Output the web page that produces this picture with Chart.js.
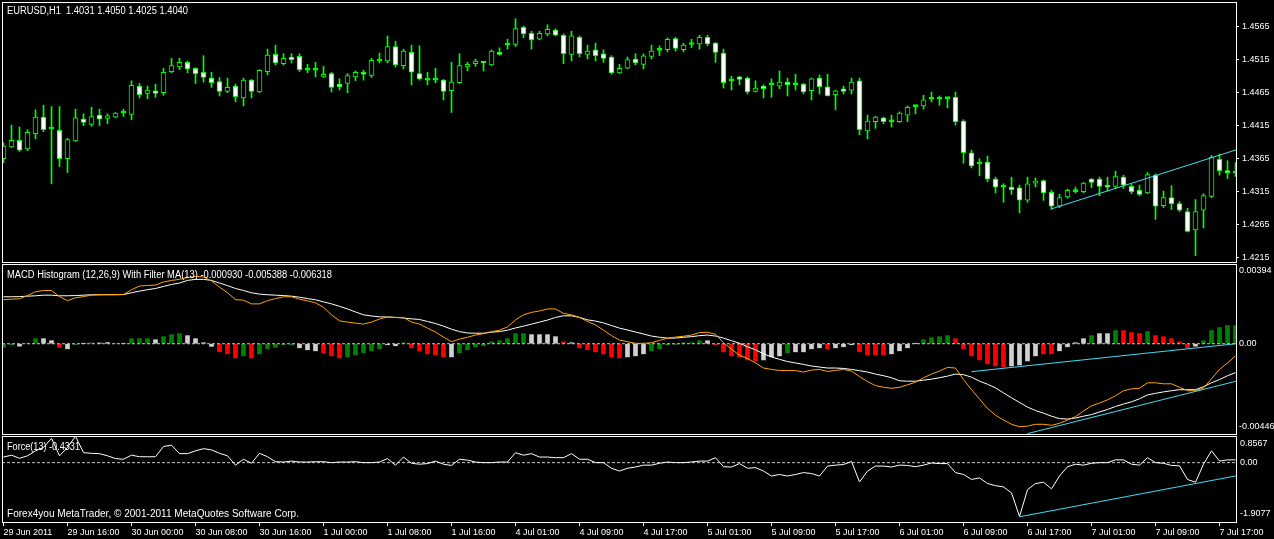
<!DOCTYPE html>
<html>
<head>
<meta charset="utf-8">
<title>EURUSD H1</title>
<script src="https://cdn.jsdelivr.net/npm/chart.js@4.4.1/dist/chart.umd.min.js"></script>
<style>
  html, body { margin: 0; padding: 0; background: #000; }
  #stage { position: relative; width: 1274px; height: 539px; overflow: hidden; background: #000; }
  canvas { position: absolute; left: 0; display: block; }
  .label {
    position: absolute; left: 7px; color: #fff; white-space: nowrap;
    font: 10px "Liberation Sans", Arial, sans-serif; line-height: 12px;
    transform-origin: 0 50%; z-index: 2;
  }
</style>
</head>
<body>
<div id="stage">
  <canvas id="price-chart" width="1274" height="264" style="top:0"></canvas>
  <canvas id="macd-chart" width="1274" height="172" style="top:263px"></canvas>
  <canvas id="force-chart" width="1274" height="104" style="top:435px"></canvas>
  <div class="label" style="top:5px" data-w="181">EURUSD,H1&nbsp; 1.4031 1.4050 1.4025 1.4040</div>
  <div class="label" style="top:269px" data-w="325">MACD Histogram (12,26,9) With Filter MA(13) -0.000930 -0.005388 -0.006318</div>
  <div class="label" style="top:441px" data-w="73">Force(13) -0.4331</div>
  <div class="label" style="top:508px" data-w="292">Forex4you MetaTrader, © 2001-2011 MetaQuotes Software Corp.</div>
</div>
<script>
// candles, one per hour, left to right
const opens = [
  1.4365, 1.4383, 1.4393, 1.4380, 1.4403, 1.4428, 1.4410, 1.4408, 1.4365, 1.4392,
  1.4425, 1.4417, 1.4431, 1.4426, 1.4428, 1.4434, 1.4432, 1.4475, 1.4464, 1.4468,
  1.4465, 1.4497, 1.4504, 1.4511, 1.4502, 1.4496, 1.4487, 1.4482, 1.4467, 1.4475,
  1.4457, 1.4484, 1.4466, 1.4497, 1.4523, 1.4509, 1.4519, 1.4520, 1.4499, 1.4499,
  1.4489, 1.4494, 1.4478, 1.4479, 1.4489, 1.4496, 1.4491, 1.4513, 1.4513, 1.4535,
  1.4506, 1.4526, 1.4494, 1.4484, 1.4484, 1.4484, 1.4468, 1.4480, 1.4504, 1.4509,
  1.4511, 1.4507, 1.4526, 1.4537, 1.4538, 1.4564, 1.4555, 1.4546, 1.4554, 1.4560,
  1.4552, 1.4523, 1.4549, 1.4523, 1.4530, 1.4524, 1.4519, 1.4495, 1.4502, 1.4516,
  1.4508, 1.4520, 1.4529, 1.4530, 1.4547, 1.4530, 1.4538, 1.4539, 1.4549, 1.4540,
  1.4525, 1.4483, 1.4489, 1.4487, 1.4467, 1.4475, 1.4477, 1.4475, 1.4481, 1.4477,
  1.4478, 1.4468, 1.4487, 1.4474, 1.4462, 1.4471, 1.4469, 1.4483, 1.4407, 1.4421,
  1.4427, 1.4421, 1.4421, 1.4431, 1.4444, 1.4445, 1.4455, 1.4455, 1.4456, 1.4458,
  1.4422, 1.4374, 1.4357, 1.4360, 1.4334, 1.4322, 1.4322, 1.4321, 1.4302, 1.4328,
  1.4332, 1.4314, 1.4293, 1.4307, 1.4315, 1.4315, 1.4334, 1.4334, 1.4325, 1.4323,
  1.4337, 1.4323, 1.4317, 1.4313, 1.4340, 1.4294, 1.4306, 1.4297, 1.4285, 1.4257,
  1.4287, 1.4308, 1.4364, 1.4347, 1.4343,
];
const highs = [
  1.4389, 1.4416, 1.4413, 1.4409, 1.4439, 1.4446, 1.4444, 1.4444, 1.4396, 1.4440,
  1.4433, 1.4443, 1.4440, 1.4433, 1.4435, 1.4440, 1.4483, 1.4479, 1.4475, 1.4478,
  1.4502, 1.4517, 1.4517, 1.4513, 1.4503, 1.4521, 1.4496, 1.4488, 1.4487, 1.4478,
  1.4487, 1.4485, 1.4500, 1.4531, 1.4537, 1.4524, 1.4524, 1.4524, 1.4508, 1.4511,
  1.4505, 1.4496, 1.4486, 1.4494, 1.4498, 1.4499, 1.4517, 1.4525, 1.4551, 1.4543,
  1.4531, 1.4537, 1.4536, 1.4496, 1.4502, 1.4485, 1.4511, 1.4524, 1.4511, 1.4516,
  1.4512, 1.4530, 1.4533, 1.4546, 1.4577, 1.4566, 1.4558, 1.4558, 1.4568, 1.4562,
  1.4554, 1.4558, 1.4551, 1.4537, 1.4540, 1.4530, 1.4521, 1.4508, 1.4519, 1.4524,
  1.4524, 1.4537, 1.4536, 1.4548, 1.4549, 1.4540, 1.4546, 1.4552, 1.4552, 1.4541,
  1.4531, 1.4490, 1.4490, 1.4489, 1.4483, 1.4477, 1.4486, 1.4498, 1.4487, 1.4493,
  1.4479, 1.4487, 1.4492, 1.4493, 1.4469, 1.4475, 1.4487, 1.4487, 1.4431, 1.4429,
  1.4428, 1.4431, 1.4436, 1.4445, 1.4446, 1.4461, 1.4466, 1.4460, 1.4457, 1.4466,
  1.4424, 1.4378, 1.4365, 1.4369, 1.4337, 1.4327, 1.4337, 1.4325, 1.4337, 1.4336,
  1.4333, 1.4317, 1.4311, 1.4319, 1.4322, 1.4329, 1.4335, 1.4337, 1.4337, 1.4346,
  1.4340, 1.4326, 1.4325, 1.4344, 1.4342, 1.4316, 1.4324, 1.4300, 1.4290, 1.4303,
  1.4312, 1.4370, 1.4372, 1.4362, 1.4359,
];
const lows = [
  1.4359, 1.4382, 1.4376, 1.4377, 1.4395, 1.4406, 1.4327, 1.4353, 1.4344, 1.4391,
  1.4415, 1.4414, 1.4415, 1.4418, 1.4427, 1.4429, 1.4424, 1.4457, 1.4456, 1.4458,
  1.4461, 1.4495, 1.4500, 1.4495, 1.4479, 1.4481, 1.4473, 1.4460, 1.4465, 1.4451,
  1.4445, 1.4457, 1.4465, 1.4492, 1.4507, 1.4507, 1.4510, 1.4497, 1.4495, 1.4489,
  1.4488, 1.4466, 1.4469, 1.4465, 1.4483, 1.4484, 1.4488, 1.4510, 1.4510, 1.4504,
  1.4501, 1.4477, 1.4484, 1.4477, 1.4480, 1.4454, 1.4435, 1.4479, 1.4498, 1.4505,
  1.4498, 1.4506, 1.4522, 1.4531, 1.4535, 1.4548, 1.4531, 1.4545, 1.4551, 1.4551,
  1.4509, 1.4513, 1.4519, 1.4516, 1.4513, 1.4511, 1.4493, 1.4494, 1.4501, 1.4507,
  1.4501, 1.4516, 1.4521, 1.4527, 1.4528, 1.4527, 1.4533, 1.4531, 1.4536, 1.4511,
  1.4472, 1.4469, 1.4477, 1.4463, 1.4466, 1.4457, 1.4458, 1.4471, 1.4460, 1.4469,
  1.4463, 1.4454, 1.4463, 1.4460, 1.4439, 1.4463, 1.4463, 1.4401, 1.4395, 1.4411,
  1.4418, 1.4413, 1.4420, 1.4421, 1.4433, 1.4440, 1.4451, 1.4446, 1.4442, 1.4416,
  1.4358, 1.4351, 1.4339, 1.4330, 1.4313, 1.4299, 1.4311, 1.4283, 1.4299, 1.4322,
  1.4302, 1.4288, 1.4291, 1.4305, 1.4313, 1.4313, 1.4321, 1.4309, 1.4316, 1.4320,
  1.4320, 1.4312, 1.4309, 1.4312, 1.4273, 1.4291, 1.4288, 1.4285, 1.4254, 1.4218,
  1.4260, 1.4306, 1.4340, 1.4335, 1.4338,
];
const closes = [
  1.4384, 1.4393, 1.4378, 1.4405, 1.4428, 1.4409, 1.4410, 1.4365, 1.4394, 1.4427,
  1.4420, 1.4429, 1.4425, 1.4430, 1.4434, 1.4434, 1.4476, 1.4462, 1.4469, 1.4464,
  1.4496, 1.4506, 1.4511, 1.4501, 1.4494, 1.4488, 1.4480, 1.4467, 1.4473, 1.4459,
  1.4484, 1.4467, 1.4499, 1.4522, 1.4510, 1.4517, 1.4515, 1.4500, 1.4499, 1.4499,
  1.4493, 1.4473, 1.4474, 1.4491, 1.4496, 1.4493, 1.4514, 1.4513, 1.4535, 1.4507,
  1.4528, 1.4496, 1.4486, 1.4484, 1.4484, 1.4467, 1.4481, 1.4506, 1.4508, 1.4513,
  1.4510, 1.4528, 1.4523, 1.4537, 1.4562, 1.4554, 1.4545, 1.4555, 1.4561, 1.4552,
  1.4524, 1.4551, 1.4524, 1.4528, 1.4521, 1.4517, 1.4495, 1.4502, 1.4515, 1.4510,
  1.4521, 1.4528, 1.4529, 1.4546, 1.4532, 1.4537, 1.4538, 1.4549, 1.4539, 1.4526,
  1.4480, 1.4483, 1.4485, 1.4466, 1.4472, 1.4471, 1.4477, 1.4481, 1.4477, 1.4477,
  1.4466, 1.4486, 1.4474, 1.4460, 1.4468, 1.4467, 1.4481, 1.4409, 1.4422, 1.4428,
  1.4421, 1.4421, 1.4434, 1.4443, 1.4444, 1.4454, 1.4455, 1.4455, 1.4456, 1.4421,
  1.4374, 1.4354, 1.4357, 1.4334, 1.4322, 1.4322, 1.4318, 1.4302, 1.4327, 1.4331,
  1.4313, 1.4293, 1.4306, 1.4317, 1.4315, 1.4328, 1.4329, 1.4323, 1.4322, 1.4338,
  1.4325, 1.4315, 1.4311, 1.4341, 1.4293, 1.4306, 1.4297, 1.4287, 1.4255, 1.4285,
  1.4309, 1.4367, 1.4347, 1.4344, 1.4343,
];

// MACD histogram (g = green, r = red, w = grey) and its two lines
const histValues = [
  -0.00018, -0.00005, -0.00012, 0.00003, 0.00025, 0.00025, 0.00015, -0.00018, -0.00025, -0.00005,
  0.00001, 0.00005, 0.00004, 0.00006, 0.00003, 0.00002, 0.00025, 0.00025, 0.00025, 0.0002,
  0.00035, 0.00045, 0.0005, 0.0004, 0.00025, 0.00005, -0.00013, -0.0004, -0.0005, -0.0007,
  -0.0006, -0.0007, -0.0005, -0.00025, -0.00018, -0.00005, -0.00006, -0.0002, -0.0003, -0.00035,
  -0.00045, -0.0006, -0.0007, -0.00065, -0.00055, -0.00045, -0.00035, -0.00025, -0.00005, -0.0001,
  0.00005, -0.0002, -0.00035, -0.0005, -0.00055, -0.00065, -0.00065, -0.00045, -0.0003, -0.00015,
  -0.0001, 0.0001, 0.00015, 0.00025, 0.0005, 0.0005, 0.00045, 0.00045, 0.00045, 0.00035,
  0.0001, 0.00005, -0.0002, -0.0003, -0.0004, -0.0005, -0.00065, -0.0007, -0.00065, -0.0006,
  -0.0005, -0.00035, -0.00025, -0.00005, -0.00003, 0.00005, 0.00005, 0.00015, 0.00015, -0.00005,
  -0.0004, -0.0006, -0.00065, -0.0008, -0.00085, -0.0008, -0.00065, -0.0006, -0.00045, -0.0004,
  -0.0004, -0.00025, -0.0002, -0.00025, -0.0002, -0.00015, -0.00005, -0.0004, -0.00055, -0.00055,
  -0.00055, -0.0005, -0.00035, -0.0002, 0.00001, 0.0002, 0.0003, 0.00035, 0.0004, 0.00025,
  -0.00025, -0.0006, -0.0008, -0.001, -0.0011, -0.00115, -0.0011, -0.00105, -0.00085, -0.0006,
  -0.0005, -0.0005, -0.00035, -0.00015, 0.00005, 0.00025, 0.0004, 0.0005, 0.0005, 0.00065,
  0.00065, 0.00055, 0.0005, 0.0006, 0.0004, 0.00035, 0.00025, 0.0001, -0.0002, -0.00012,
  0.00015, 0.00065, 0.0008, 0.0009, 0.0009,
];
const histKinds = [
  'ggwggwwrwg', 'wgwwgwgggw', 'gggwwwwrrr', 'grgggggwww', 'rrrgggggww',
  'grrrrrwggg', 'ggggggwwww', 'rwrrrrrrww', 'wgggggggwr', 'rrrrrwwwgw',
  'wwwrwwwrrr', 'rwwwwggggr', 'rrrrrrwwww', 'rrwwwwgwwg', 'rrrgrrrrrw',
  'ggggg',
].join('');
const macdWhite = [
  0.00232, 0.00232, 0.00233, 0.00235, 0.00237, 0.0024, 0.0024, 0.00237, 0.00237, 0.00238,
  0.0024, 0.00242, 0.00242, 0.00242, 0.00242, 0.00243, 0.00252, 0.0026, 0.00267, 0.00273,
  0.00283, 0.00293, 0.003, 0.00313, 0.00318, 0.00318, 0.00313, 0.003, 0.00287, 0.00273,
  0.00263, 0.00252, 0.00245, 0.00242, 0.0024, 0.00238, 0.00235, 0.0023, 0.00223, 0.00217,
  0.00207, 0.00197, 0.00185, 0.00172, 0.00157, 0.00143, 0.00137, 0.00133, 0.00132, 0.0013,
  0.00127, 0.00123, 0.0012, 0.0011, 0.001, 0.00087, 0.00072, 0.0006, 0.00053, 0.00052,
  0.00052, 0.00057, 0.0006, 0.00067, 0.00078, 0.00087, 0.00097, 0.00107, 0.00117, 0.0013,
  0.00138, 0.00138, 0.0013, 0.00118, 0.00112, 0.00103, 0.0009, 0.00077, 0.00068, 0.00058,
  0.00048, 0.00038, 0.00032, 0.00028, 0.00028, 0.00032, 0.00035, 0.0004, 0.00043, 0.00038,
  0.00028, 0.00015, 0.00002, -0.00015, -0.0003, -0.0005, -0.00065, -0.00077, -0.00088, -0.00095,
  -0.00102, -0.0011, -0.00115, -0.0012, -0.0012, -0.00122, -0.00127, -0.00133, -0.0014, -0.0015,
  -0.00158, -0.00168, -0.00183, -0.00185, -0.00185, -0.0018, -0.00175, -0.00168, -0.0016, -0.0015,
  -0.00153, -0.00165, -0.00185, -0.002, -0.00218, -0.00243, -0.00267, -0.0029, -0.00313, -0.0033,
  -0.00343, -0.00358, -0.0037, -0.00372, -0.00367, -0.00358, -0.0035, -0.00337, -0.00325, -0.0031,
  -0.00298, -0.00287, -0.00272, -0.00253, -0.00245, -0.00238, -0.00232, -0.00227, -0.00227, -0.00227,
  -0.00212, -0.00193, -0.00177, -0.00158, -0.00143,
];
const macdOrange = [
  0.00218, 0.0022, 0.00222, 0.00238, 0.00257, 0.00263, 0.00263, 0.00233, 0.00213, 0.00227,
  0.00233, 0.0024, 0.00242, 0.00243, 0.00243, 0.00243, 0.00267, 0.00285, 0.00288, 0.0029,
  0.00305, 0.00313, 0.00318, 0.00327, 0.00332, 0.0033, 0.0031, 0.0028, 0.00252, 0.00218,
  0.00215, 0.00197, 0.00197, 0.00213, 0.00223, 0.00232, 0.00232, 0.0022, 0.00212, 0.00202,
  0.0018, 0.00143, 0.00113, 0.00107, 0.00102, 0.00097, 0.00107, 0.00122, 0.00132, 0.0013,
  0.0013, 0.00107, 0.00097, 0.00077, 0.00058, 0.00033, 0.0001, 0.00023, 0.00032, 0.00043,
  0.0005, 0.0006, 0.00067, 0.00083, 0.00118, 0.00143, 0.00155, 0.00162, 0.00172, 0.00172,
  0.0015, 0.00143, 0.0013, 0.0011, 0.00093, 0.00067, 0.0004, 0.00018, 0.0001, 0.00002,
  0.00002, 0.00005, 0.00017, 0.00027, 0.00033, 0.00037, 0.00043, 0.00055, 0.00057, 0.00047,
  0.00005, -0.00027, -0.00057, -0.00073, -0.00095, -0.0012, -0.00127, -0.00132, -0.00132, -0.00133,
  -0.0014, -0.0013, -0.00127, -0.00137, -0.00132, -0.00127, -0.00135, -0.00162, -0.00187, -0.00207,
  -0.00215, -0.0022, -0.00215, -0.00203, -0.0019, -0.00168, -0.0015, -0.00135, -0.00117, -0.0012,
  -0.00177, -0.00227, -0.00273, -0.0032, -0.00353, -0.00377, -0.00398, -0.0041, -0.00407, -0.00398,
  -0.00398, -0.00403, -0.00393, -0.00377, -0.0036, -0.00332, -0.00307, -0.00293, -0.00277, -0.00257,
  -0.00232, -0.00223, -0.0022, -0.00193, -0.00193, -0.00198, -0.00198, -0.00215, -0.00232, -0.00232,
  -0.0022, -0.00173, -0.00127, -0.00095, -0.0006,
];

// Force index
const forceValues = [
  0.18, 0.24, 0.14, 0.22, 0.38, 0.49, 0.78, 0.22, 0.49, 0.85,
  0.32, 0.30, 0.29, 0.22, 0.13, 0.11, 0.24, 0.19, 0.19, 0.19,
  0.52, 0.56, 0.29, 0.29, 0.38, 0.45, 0.41, 0.30, 0.22, -0.08,
  0.11, -0.02, 0.30, 0.19, 0.03, 0.02, 0.05, 0.02, 0.02, 0.03,
  0.03, 0, 0.02, 0.02, 0.03, 0, 0, 0.02, 0.13, -0.08,
  0.18, -0.02, -0.05, -0.03, 0.05, -0.05, -0.09, 0.11, 0.08, 0.02,
  0, 0, 0.02, 0.02, 0.32, 0.24, 0.29, 0.18, 0.18, 0.16,
  0.16, 0.29, 0.11, 0.11, 0, 0, -0.18, -0.27, -0.18, -0.14,
  -0.08, -0.08, -0.02, 0.02, 0, 0, 0.02, 0.05, 0.05, 0.16,
  -0.13, -0.14, -0.03, -0.18, -0.16, -0.27, -0.43, -0.38, -0.43, -0.38,
  -0.32, -0.35, -0.43, -0.11, -0.08, -0.06, 0.04, -0.62, -0.27, -0.11,
  -0.11, -0.14, -0.08, -0.09, -0.13, -0.08, -0.01, -0.03, -0.03, -0.32,
  -0.38, -0.54, -0.49, -0.67, -0.74, -0.78, -0.97, -1.73, -0.87, -0.67,
  -0.63, -0.84, -0.43, -0.13, -0.05, -0.08, -0.02, 0, 0, 0.09,
  0.09, -0.05, -0.08, 0.16, 0, -0.02, -0.09, -0.10, -0.54, -0.63,
  -0.05, 0.38, 0.05, 0.09, 0.09,
];

// hand-drawn trend lines: [bar, value] at both ends
const priceTrend = [[131, 1.4289], [155, 1.4382]];
const macdTrendHigh = [[121, -0.00138], [155, 0.00004]];
const macdTrendLow = [[128, -0.00444], [155, -0.00176]];
const forceTrend = [[127, -1.74], [155, -0.38]];

// axes
const priceTicks = [1.4565, 1.4515, 1.4465, 1.4415, 1.4365, 1.4315, 1.4265, 1.4215];
const priceRange = [1.42085, 1.46024];
const macdRange = [-0.00446, 0.00394];
const macdTickLabels = ['0.00394', '0.00', '-0.00446'];
const forceRange = [-1.9077, 0.8567];
const forceTickLabels = ['0.8567', '0.00', '-1.9077'];
const timeTickBars = [0, 8, 16, 24, 32, 40, 48, 56, 64, 72, 80, 88, 96, 104, 112, 120, 128, 136, 144, 152];
const timeTickLabels = [
  '29 Jun 2011', '29 Jun 16:00', '30 Jun 00:00', '30 Jun 08:00', '30 Jun 16:00',
  '1 Jul 00:00', '1 Jul 08:00', '1 Jul 16:00', '4 Jul 01:00', '4 Jul 09:00',
  '4 Jul 17:00', '5 Jul 01:00', '5 Jul 09:00', '5 Jul 17:00', '6 Jul 01:00',
  '6 Jul 09:00', '6 Jul 17:00', '7 Jul 01:00', '7 Jul 09:00', '7 Jul 17:00',
];
const barRange = [-0.1875, 154.0625];

const GREEN = '#00ff00';
const CYAN = '#3fdcf5';
const histColors = { g: '#008000', r: '#ff0000', w: '#d0d0d0' };

Chart.defaults.font.family = '"Liberation Sans", Arial, sans-serif';
Chart.defaults.font.size = 9;
Chart.defaults.color = '#ffffff';
Chart.defaults.animation = false;
Chart.defaults.plugins.legend.display = false;
Chart.defaults.plugins.tooltip.enabled = false;

const framePlugin = {
  id: 'frame',
  afterDraw(chart) {
    const { ctx, chartArea: a } = chart;
    ctx.save();
    ctx.strokeStyle = '#ffffff';
    ctx.lineWidth = 1;
    ctx.strokeRect(a.left + 0.5, a.top + 0.5, a.right - a.left, a.bottom - a.top);
    ctx.restore();
  },
};

function toPoints(pairs) {
  return pairs.map(([x, y]) => ({ x, y }));
}

function lineSet(data, color, extra = {}) {
  return {
    type: 'line', data, borderColor: color, borderWidth: 1,
    pointRadius: 0, tension: 0, fill: false, ...extra,
  };
}

function zeroLine() {
  return lineSet(toPoints([[barRange[0], 0], [barRange[1], 0]]), '#c8c8c8', { borderDash: [3, 2], order: 2 });
}

function hiddenBarAxis() {
  return {
    type: 'linear', display: false, offset: false, bounds: 'data',
    min: barRange[0], max: barRange[1], grid: { offset: false },
  };
}

function rightAxis(range, extra) {
  return {
    position: 'right', min: range[0], max: range[1], bounds: 'data',
    afterFit(scale) { scale.width = 38; scale.paddingTop = 0; scale.paddingBottom = 0; },
    border: { display: false },
    ...extra,
  };
}

// label at max/min sits just inside the panel, like the terminal draws it
function edgeTicks(inset) {
  return (scale) => {
    const perPx = (scale.max - scale.min) / scale.height;
    scale.ticks = [
      { value: scale.max - inset * perPx },
      { value: 0 },
      { value: scale.min + inset * perPx },
    ];
  };
}

const indices = opens.map((_, i) => i);

new Chart(document.querySelector('#price-chart'), {
  type: 'bar',
  data: {
    datasets: [
      lineSet(toPoints(priceTrend), CYAN, { order: 0 }),
      {
        data: indices.map((i) => ({ x: i, y: [opens[i], closes[i]] })),
        backgroundColor: indices.map((i) => (closes[i] > opens[i] ? '#000000' : closes[i] < opens[i] ? '#ffffff' : GREEN)),
        borderColor: GREEN, borderWidth: 1, borderSkipped: false,
        barThickness: 5, minBarLength: 2, grouped: false, order: 1,
      },
      {
        data: indices.map((i) => ({ x: i, y: [lows[i], highs[i]] })),
        backgroundColor: GREEN, borderWidth: 0,
        barThickness: 1, grouped: false, order: 2,
      },
    ],
  },
  options: {
    responsive: false,
    layout: { padding: { left: 2, top: 2, bottom: 2, right: 0 } },
    scales: {
      x: hiddenBarAxis(),
      y: rightAxis(priceRange, {
        afterBuildTicks(scale) { scale.ticks = priceTicks.map((value) => ({ value })); },
        grid: { drawOnChartArea: false, drawTicks: true, tickLength: 3, color: '#ffffff' },
        ticks: { color: '#ffffff', padding: 3, callback: (value) => Number(value).toFixed(4) },
      }),
    },
  },
  plugins: [framePlugin],
});

new Chart(document.querySelector('#macd-chart'), {
  type: 'bar',
  data: {
    datasets: [
      lineSet(toPoints(macdTrendHigh), CYAN, { order: 0 }),
      lineSet(toPoints(macdTrendLow), CYAN, { order: 0 }),
      lineSet(indices.map((i) => ({ x: i, y: macdOrange[i] })), '#ffa500', { order: 0 }),
      lineSet(indices.map((i) => ({ x: i, y: macdWhite[i] })), '#ffffff', { order: 1 }),
      zeroLine(),
      {
        data: indices.map((i) => ({ x: i, y: histValues[i] })),
        backgroundColor: indices.map((i) => histColors[histKinds[i]]),
        borderWidth: 0, barThickness: 4, grouped: false, order: 3,
      },
    ],
  },
  options: {
    responsive: false,
    layout: { padding: { left: 2, top: 1, bottom: 1, right: 0 } },
    scales: {
      x: hiddenBarAxis(),
      y: rightAxis(macdRange, {
        afterBuildTicks: edgeTicks(7),
        grid: { drawOnChartArea: false, drawTicks: false },
        ticks: { color: '#ffffff', padding: 3, callback: (value, index) => macdTickLabels[index] },
      }),
    },
  },
  plugins: [framePlugin],
});

new Chart(document.querySelector('#force-chart'), {
  type: 'line',
  data: {
    datasets: [
      lineSet(toPoints(forceTrend), CYAN, { order: 0 }),
      lineSet(indices.map((i) => ({ x: i, y: forceValues[i] })), '#ffffff', { order: 1 }),
      zeroLine(),
    ],
  },
  options: {
    responsive: false,
    layout: { padding: { left: 2, top: 1, bottom: 0, right: 0 } },
    scales: {
      x: {
        type: 'linear', position: 'bottom', min: barRange[0], max: barRange[1], bounds: 'data',
        afterBuildTicks(scale) { scale.ticks = timeTickBars.map((value) => ({ value })); },
        afterFit(scale) { scale.height = 17; scale.paddingLeft = 0; scale.paddingRight = 0; },
        grid: { drawOnChartArea: false, drawTicks: true, tickLength: 4, color: '#ffffff' },
        border: { display: false },
        ticks: {
          color: '#ffffff', align: 'start', maxRotation: 0, autoSkip: false, padding: 1,
          callback: (value, index) => timeTickLabels[index],
        },
      },
      y: rightAxis(forceRange, {
        afterBuildTicks: edgeTicks(8),
        grid: { drawOnChartArea: false, drawTicks: false },
        ticks: { color: '#ffffff', padding: 4, callback: (value, index) => forceTickLabels[index] },
      }),
    },
  },
  plugins: [framePlugin],
});

// squeeze the panel captions to the width the terminal font gives them
document.querySelectorAll('.label[data-w]').forEach((el) => {
  const width = el.getBoundingClientRect().width;
  el.style.transform = `scaleX(${el.dataset.w / width})`;
});
</script>
</body>
</html>
